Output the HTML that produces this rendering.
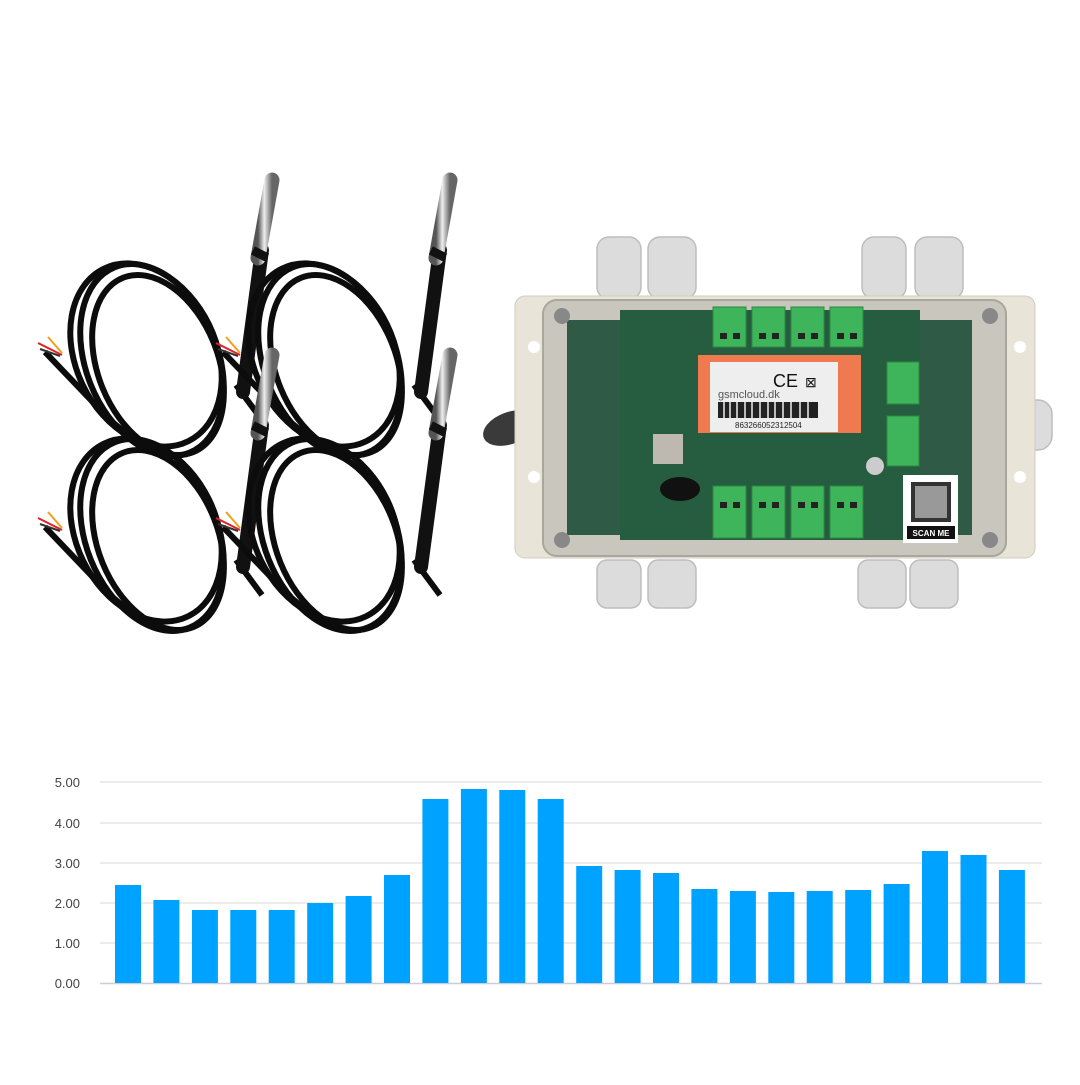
<!DOCTYPE html>
<html><head><meta charset="utf-8"><style>
html,body{margin:0;padding:0;background:#fff;}
body{width:1080px;height:1080px;overflow:hidden;}
</style></head><body>
<svg width="1080" height="1080" viewBox="0 0 1080 1080" xmlns="http://www.w3.org/2000/svg" font-family="Liberation Sans, sans-serif">
<defs>
<linearGradient id="steel" x1="0" x2="1" y1="0" y2="0">
<stop offset="0" stop-color="#555"/><stop offset="0.45" stop-color="#eee"/><stop offset="1" stop-color="#666"/>
</linearGradient>
<g id="sensor">
  <g fill="none" stroke="#0c0c0c" stroke-width="6">
    <ellipse cx="152" cy="360" rx="66" ry="100" transform="rotate(-22 152 360)"/>
    <ellipse cx="158" cy="365" rx="60" ry="94" transform="rotate(-22 158 365)"/>
    <ellipse cx="146" cy="355" rx="70" ry="96" transform="rotate(-26 146 355)"/>
    <path d="M45 352 L110 420 L140 445"/>
    <path d="M236 385 L262 420"/>
  </g>
  <path d="M38 343 L62 355" stroke="#e02020" stroke-width="2"/>
  <path d="M48 337 L62 353" stroke="#f0a020" stroke-width="2"/>
  <path d="M40 349 L60 356" stroke="#333" stroke-width="2"/>
  <path d="M243 392 L262 250" stroke="#111" stroke-width="14" stroke-linecap="round"/>
  <path d="M258 258 L272 180" stroke="url(#steel)" stroke-width="15" stroke-linecap="round"/>
  <path d="M258 258 L262 250" stroke="#111" stroke-width="16"/>
</g>
</defs>
<use href="#sensor"/>
<use href="#sensor" transform="translate(178,0)"/>
<use href="#sensor" transform="translate(0,175)"/>
<use href="#sensor" transform="translate(178,175)"/>

<g fill="#dcdcdc" stroke="#bdbdbd" stroke-width="1.5">
<rect x="597" y="237" width="44" height="62" rx="12"/>
<rect x="648" y="237" width="48" height="62" rx="12"/>
<rect x="862" y="237" width="44" height="62" rx="12"/>
<rect x="915" y="237" width="48" height="62" rx="12"/>
<rect x="597" y="560" width="44" height="48" rx="10"/>
<rect x="648" y="560" width="48" height="48" rx="10"/>
<rect x="858" y="560" width="48" height="48" rx="10"/>
<rect x="910" y="560" width="48" height="48" rx="10"/>
<rect x="990" y="400" width="62" height="50" rx="14"/>
</g>
<rect x="540" y="410" width="30" height="20" fill="#b08a40"/>
<ellipse cx="510" cy="428" rx="28" ry="16" fill="#3a3a3a" transform="rotate(-20 510 428)"/>
<rect x="515" y="296" width="520" height="262" rx="10" fill="#e8e4d8" stroke="#d0ccc0"/>
<circle cx="534" cy="347" r="6" fill="#fff"/><circle cx="534" cy="477" r="6" fill="#fff"/>
<circle cx="1020" cy="347" r="6" fill="#fff"/><circle cx="1020" cy="477" r="6" fill="#fff"/>
<rect x="543" y="300" width="463" height="256" rx="14" fill="#c9c7bd" stroke="#aaa69c" stroke-width="2"/>
<rect x="567" y="320" width="405" height="215" fill="#2f5a45"/>
<rect x="620" y="310" width="300" height="230" fill="#265c40"/>
<g fill="#888"><circle cx="562" cy="316" r="8"/><circle cx="990" cy="316" r="8"/><circle cx="562" cy="540" r="8"/><circle cx="990" cy="540" r="8"/></g>
<g fill="#3fb55b" stroke="#2a8a40">
<rect x="713" y="307" width="33" height="40"/><rect x="752" y="307" width="33" height="40"/>
<rect x="791" y="307" width="33" height="40"/><rect x="830" y="307" width="33" height="40"/>
<rect x="713" y="486" width="33" height="52"/><rect x="752" y="486" width="33" height="52"/>
<rect x="791" y="486" width="33" height="52"/><rect x="830" y="486" width="33" height="52"/>
<rect x="887" y="362" width="32" height="42"/><rect x="887" y="416" width="32" height="50"/>
</g>
<g fill="#222">
<rect x="720" y="333" width="7" height="6"/><rect x="733" y="333" width="7" height="6"/>
<rect x="759" y="333" width="7" height="6"/><rect x="772" y="333" width="7" height="6"/>
<rect x="798" y="333" width="7" height="6"/><rect x="811" y="333" width="7" height="6"/>
<rect x="837" y="333" width="7" height="6"/><rect x="850" y="333" width="7" height="6"/>
<rect x="720" y="502" width="7" height="6"/><rect x="733" y="502" width="7" height="6"/>
<rect x="759" y="502" width="7" height="6"/><rect x="772" y="502" width="7" height="6"/>
<rect x="798" y="502" width="7" height="6"/><rect x="811" y="502" width="7" height="6"/>
<rect x="837" y="502" width="7" height="6"/><rect x="850" y="502" width="7" height="6"/>
</g>
<rect x="698" y="355" width="163" height="78" fill="#f07a50"/>
<rect x="710" y="362" width="128" height="70" fill="#eeeeee"/>
<text x="718" y="398" font-size="11" fill="#555">gsmcloud.dk</text>
<text x="773" y="387" font-size="18" fill="#111">CE</text>
<text x="805" y="387" font-size="14" fill="#111">⊠</text>
<rect x="718" y="402" width="100" height="16" fill="#222"/>
<g stroke="#eee" stroke-width="1.5"><path d="M724 402v16M730 402v16M737 402v16M745 402v16M752 402v16M760 402v16M768 402v16M775 402v16M783 402v16M791 402v16M800 402v16M808 402v16"/></g>
<text x="735" y="428" font-size="8" fill="#222">863266052312504</text>
<ellipse cx="680" cy="489" rx="20" ry="12" fill="#111"/>
<rect x="653" y="434" width="30" height="30" fill="#bdb8b0"/>
<circle cx="875" cy="466" r="9" fill="#ccc"/>
<rect x="903" y="475" width="55" height="68" fill="#fff"/>
<rect x="911" y="482" width="40" height="40" fill="#333"/>
<rect x="915" y="486" width="32" height="32" fill="#999"/>
<rect x="907" y="526" width="48" height="13" fill="#111"/>
<text x="931" y="536" font-size="8" font-weight="bold" fill="#fff" text-anchor="middle">SCAN ME</text>

<g stroke="#e6e6e6" stroke-width="1.5">
<line x1="100" y1="782" x2="1042" y2="782"/><line x1="100" y1="823" x2="1042" y2="823"/>
<line x1="100" y1="863" x2="1042" y2="863"/><line x1="100" y1="903" x2="1042" y2="903"/>
<line x1="100" y1="943" x2="1042" y2="943"/>
</g>
<line x1="100" y1="983.5" x2="1042" y2="983.5" stroke="#ccd" stroke-width="1.5"/>
<g font-size="13" fill="#444" text-anchor="end">
<text x="80" y="787">5.00</text><text x="80" y="828">4.00</text><text x="80" y="868">3.00</text>
<text x="80" y="908">2.00</text><text x="80" y="948">1.00</text><text x="80" y="988">0.00</text>
</g>
<g fill="#00a2ff">
<rect x="115" y="885" width="26" height="98"/>
<rect x="153.4" y="900" width="26" height="83"/>
<rect x="191.9" y="910" width="26" height="73"/>
<rect x="230.3" y="910" width="26" height="73"/>
<rect x="268.7" y="910" width="26" height="73"/>
<rect x="307.2" y="903" width="26" height="80"/>
<rect x="345.6" y="896" width="26" height="87"/>
<rect x="384" y="875" width="26" height="108"/>
<rect x="422.4" y="799" width="26" height="184"/>
<rect x="460.9" y="789" width="26" height="194"/>
<rect x="499.3" y="790" width="26" height="193"/>
<rect x="537.7" y="799" width="26" height="184"/>
<rect x="576.2" y="866" width="26" height="117"/>
<rect x="614.6" y="870" width="26" height="113"/>
<rect x="653" y="873" width="26" height="110"/>
<rect x="691.4" y="889" width="26" height="94"/>
<rect x="729.9" y="891" width="26" height="92"/>
<rect x="768.3" y="892" width="26" height="91"/>
<rect x="806.7" y="891" width="26" height="92"/>
<rect x="845.2" y="890" width="26" height="93"/>
<rect x="883.6" y="884" width="26" height="99"/>
<rect x="922" y="851" width="26" height="132"/>
<rect x="960.5" y="855" width="26" height="128"/>
<rect x="998.9" y="870" width="26" height="113"/>
</g>
</svg>
</body></html>
